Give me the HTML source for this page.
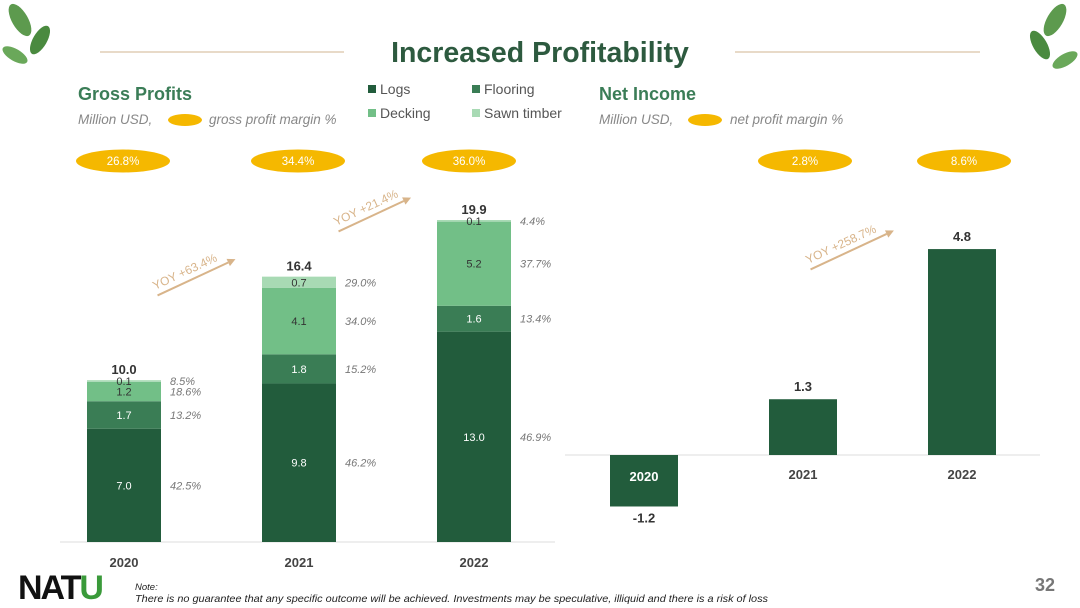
<!DOCTYPE html>
<html><head><meta charset="utf-8"><style>
body{margin:0;width:1080px;height:608px;background:#fff;font-family:"Liberation Sans","DejaVu Sans",sans-serif;overflow:hidden;position:relative}
svg{position:absolute;left:0;top:0}
</style></head><body>
<svg width="1080" height="608">
<g>
<ellipse cx="20" cy="20" rx="8" ry="18" fill="#5d9a4e" transform="rotate(-30 20 20)"/>
<ellipse cx="40" cy="40" rx="7" ry="16" fill="#4a8a3f" transform="rotate(30 40 40)"/>
<ellipse cx="15" cy="55" rx="6" ry="14" fill="#6aa85a" transform="rotate(-60 15 55)"/>
<ellipse cx="1055" cy="20" rx="8" ry="18" fill="#5d9a4e" transform="rotate(30 1055 20)"/>
<ellipse cx="1040" cy="45" rx="7" ry="16" fill="#4a8a3f" transform="rotate(-30 1040 45)"/>
<ellipse cx="1065" cy="60" rx="6" ry="14" fill="#6aa85a" transform="rotate(60 1065 60)"/>
</g>
<line x1="100" y1="52" x2="344" y2="52" stroke="#e0cdb5" stroke-width="1.5"/>
<line x1="735" y1="52" x2="980" y2="52" stroke="#e0cdb5" stroke-width="1.5"/>
<text x="540" y="62" text-anchor="middle" font-size="28.5" font-weight="bold" fill="#2d5a3f">Increased Profitability</text>
<text x="78" y="100" font-size="18" font-weight="bold" fill="#3b7d57">Gross Profits</text>
<text x="78" y="124" font-size="13.5" font-style="italic" fill="#888">Million USD,</text>
<ellipse cx="185" cy="120" rx="17" ry="6" fill="#f5b800"/>
<text x="209" y="124" font-size="13.5" font-style="italic" fill="#888">gross profit margin %</text>
<g font-size="14" fill="#555">
<rect x="368" y="85" width="8" height="8" fill="#225c3c"/><text x="380" y="94">Logs</text>
<rect x="472" y="85" width="8" height="8" fill="#3a7d55"/><text x="484" y="94">Flooring</text>
<rect x="368" y="109" width="8" height="8" fill="#72bf87"/><text x="380" y="118">Decking</text>
<rect x="472" y="109" width="8" height="8" fill="#a8dab4"/><text x="484" y="118">Sawn timber</text>
</g>
<text x="599" y="100" font-size="18" font-weight="bold" fill="#3b7d57">Net Income</text>
<text x="599" y="124" font-size="13.5" font-style="italic" fill="#888">Million USD,</text>
<ellipse cx="705" cy="120" rx="17" ry="6" fill="#f5b800"/>
<text x="730" y="124" font-size="13.5" font-style="italic" fill="#888">net profit margin %</text>
<g id="gross"></g>
<g id="net"></g>
<g font-size="12" fill="#d8b48a">
<g transform="translate(155,290) rotate(-25)"><text x="0" y="0">YOY +63.4%</text><line x1="0" y1="6" x2="78" y2="6" stroke="#d8b48a" stroke-width="2"/><path d="M78 2 L86 6 L78 10Z" fill="#d8b48a"/></g>
<g transform="translate(336,226) rotate(-25)"><text x="0" y="0">YOY +21.4%</text><line x1="0" y1="6" x2="72" y2="6" stroke="#d8b48a" stroke-width="2"/><path d="M72 2 L80 6 L72 10Z" fill="#d8b48a"/></g>
<g transform="translate(808,264) rotate(-25)"><text x="0" y="0">YOY +258.7%</text><line x1="0" y1="6" x2="84" y2="6" stroke="#d8b48a" stroke-width="2"/><path d="M84 2 L92 6 L84 10Z" fill="#d8b48a"/></g>
</g>
<text x="18" y="599" font-size="34" font-weight="bold" fill="#111" letter-spacing="-2">NAT<tspan fill="#3a9a3a">U</tspan></text>
<text x="135" y="590" font-size="9.5" font-style="italic" fill="#222">Note:</text>
<text x="135" y="602" font-size="10.5" font-style="italic" fill="#222" textLength="633" lengthAdjust="spacingAndGlyphs">There is no guarantee that any specific outcome will be achieved. Investments may be speculative, illiquid and there is a risk of loss</text>
<text x="1055" y="591" font-size="18" font-weight="bold" fill="#777" text-anchor="end">32</text>
</svg>
<script>
const years=["2020","2021","2022"];
const logs=[7.0,9.8,13.0];
const flooring=[1.7,1.8,1.6];
const decking=[1.2,4.1,5.2];
const sawn=[0.1,0.7,0.1];
const totals=[10.0,16.4,19.9];
const grossMargin=["26.8%","34.4%","36.0%"];
const shareLogs=["42.5%","46.2%","46.9%"];
const shareFlooring=["13.2%","15.2%","13.4%"];
const shareDecking=["18.6%","34.0%","37.7%"];
const shareSawn=["8.5%","29.0%","4.4%"];
const netYears=["2020","2021","2022"];
const netIncome=[-1.2,1.3,4.8];
const netMargin=["","2.8%","8.6%"];

const NS="http://www.w3.org/2000/svg";
function mk(p,t,a,txt){const e=document.createElementNS(NS,t);for(const k in a)e.setAttribute(k,a[k]);if(txt!==undefined)e.textContent=txt;p.appendChild(e);return e;}
const g=document.getElementById('gross');
const base=542,ppu=16.18;
const gx=i=>124+i*175;const yG=v=>base-v*ppu;
mk(g,'line',{x1:60,y1:base,x2:555,y2:base,stroke:'#ddd'});
const series=[[logs,'#225c3c','#fff',shareLogs],[flooring,'#3a7d55','#fff',shareFlooring],[decking,'#72bf87','#333',shareDecking],[sawn,'#a8dab4','#333',shareSawn]];
years.forEach((y,i)=>{
  let cum=0;
  series.forEach(([arr,col,tc,sh],s)=>{
    const v=arr[i];const y0=yG(cum),y1=yG(cum+v);
    const r=mk(g,'rect',{x:gx(i)-37,y:y1,width:74,height:y0-y1,fill:col});
    
    
    const my=(y0+y1)/2;
    mk(g,'text',{x:gx(i),y:my+4,'text-anchor':'middle','font-size':11,fill:tc},v.toFixed(1));
    mk(g,'text',{x:gx(i)+46,y:my+4,'font-size':11,'font-style':'italic',fill:'#777'},sh[i]);
    cum+=v;
  });
  mk(g,'text',{x:gx(i),y:yG(totals[i])-6,'text-anchor':'middle','font-size':13,'font-weight':'bold',fill:'#333'},totals[i].toFixed(1));
  mk(g,'text',{x:gx(i),y:567,'text-anchor':'middle','font-size':13,'font-weight':'bold',fill:'#444'},y);
  mk(g,'ellipse',{cx:[123,298,469][i],cy:161,rx:47,ry:11.5,fill:'#f5b800'});
  mk(g,'text',{x:[123,298,469][i],y:165,'text-anchor':'middle','font-size':11.5,fill:'#fff'},grossMargin[i]);
});
const n=document.getElementById('net');
const nb=455,np=42.9;const nx=i=>644+i*159;const yN=v=>nb-v*np;
mk(n,'line',{x1:565,y1:nb,x2:1040,y2:nb,stroke:'#ddd'});
netYears.forEach((y,i)=>{
  const v=netIncome[i];const top=Math.min(yN(v),nb),h=Math.abs(v*np);
  const r=mk(n,'rect',{x:nx(i)-34,y:top,width:68,height:h,fill:'#225c3c'});
  
  
  if(v>=0){mk(n,'text',{x:nx(i),y:top-8,'text-anchor':'middle','font-size':13,'font-weight':'bold',fill:'#333'},v.toFixed(1));
    mk(n,'text',{x:nx(i),y:479,'text-anchor':'middle','font-size':13,'font-weight':'bold',fill:'#444'},y);}
  else{mk(n,'text',{x:nx(i),y:top+h+16,'text-anchor':'middle','font-size':13,'font-weight':'bold',fill:'#333'},v.toFixed(1));
    mk(n,'text',{x:nx(i),y:481,'text-anchor':'middle','font-size':13,'font-weight':'bold',fill:'#fff'},y);}
  if(netMargin[i]){mk(n,'ellipse',{cx:nx(i)+2,cy:161,rx:47,ry:11.5,fill:'#f5b800'});
    mk(n,'text',{x:nx(i)+2,y:165,'text-anchor':'middle','font-size':11.5,fill:'#fff'},netMargin[i]);}
});
</script>
</body></html>
